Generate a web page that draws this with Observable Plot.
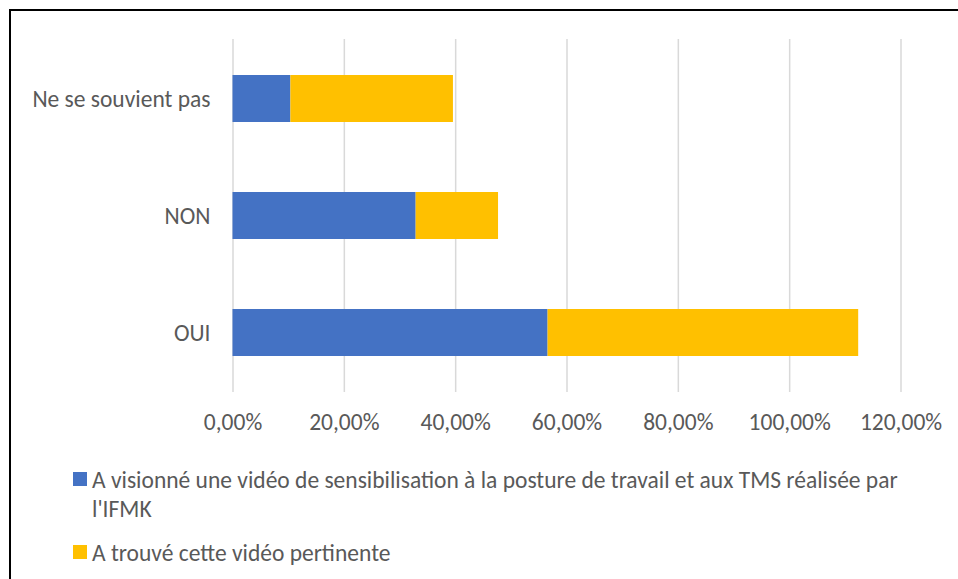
<!DOCTYPE html>
<html>
<head>
<meta charset="utf-8">
<script src="https://cdn.jsdelivr.net/npm/d3@7"></script>
<script src="https://cdn.jsdelivr.net/npm/@observablehq/plot@0.6"></script>
<style>
  html, body { margin: 0; padding: 0; background: #fff; overflow: hidden; width: 958px; height: 579px; }
  #frame { position: absolute; left: 9px; top: 9px; width: 960px; height: 580px; border: 2px solid #000; box-sizing: border-box; }
  #chart { position: absolute; left: 0; top: 0; }
  #legend { position: absolute; left: 73px; top: 466px; width: 850px; font-family: Carlito, Calibri, Lato, sans-serif; font-size: 23.5px; color: #595959; line-height: 29px; }
  .item { display: flex; align-items: flex-start; }
  .sw { flex: 0 0 14px; width: 14px; height: 14px; margin-top: 6px; margin-right: 5px; }
  .item + .item { margin-top: 15px; }
</style>
</head>
<body>
<div id="frame"></div>
<div id="chart"></div>
<div id="legend"></div>
<script>
const categories = ["Ne se souvient pas", "NON", "OUI"];
const seriesNames = [
  "A visionné une vidéo de sensibilisation à la posture de travail et aux TMS réalisée par l'IFMK",
  "A trouvé cette vidéo pertinente"
];
const seriesColors = ["#4472C4", "#FFC000"];
const visionne = [0.104, 0.329, 0.566];
const pertinente = [0.292, 0.148, 0.558];
const tickValues = [0, 0.2, 0.4, 0.6, 0.8, 1.0, 1.2];

const fr = d3.formatLocale({decimal: ",", thousands: " ", grouping: [3], currency: ["", " €"], percent: "%"});
const fmt = fr.format(".2%");

const data = [];
categories.forEach((c, i) => {
  data.push({cat: c, series: seriesNames[0], value: visionne[i]});
  data.push({cat: c, series: seriesNames[1], value: pertinente[i]});
});

const chart = Plot.plot({
  width: 958,
  height: 450,
  marginLeft: 232.5,
  marginRight: 57.5,
  marginTop: 39,
  marginBottom: 58,
  style: {fontFamily: "Carlito, Calibri, Lato, sans-serif", fontSize: "23.5px", color: "#595959", background: "transparent"},
  x: {domain: [0, 1.2], ticks: tickValues, tickFormat: fmt, label: null, tickSize: 0, tickPadding: 21},
  y: {domain: categories, paddingInner: 0.6, paddingOuter: 0.3, label: null, tickSize: 0, tickPadding: 22.5},
  color: {domain: seriesNames, range: seriesColors},
  marks: [
    Plot.ruleX(tickValues, {stroke: "#d9d9d9", strokeWidth: 1.5}),
    Plot.barX(data, {y: "cat", x: "value", fill: "series", order: null}),
    Plot.axisX({ticks: tickValues, tickFormat: fmt, tickSize: 0, tickPadding: 21, label: null, fill: "#595959"}),
    Plot.axisY({tickSize: 0, tickPadding: 22.5, label: null, fill: "#595959"})
  ]
});
document.getElementById("chart").appendChild(chart);

const legend = document.getElementById("legend");
seriesNames.forEach((name, i) => {
  const item = document.createElement("div");
  item.className = "item";
  const sw = document.createElement("span");
  sw.className = "sw";
  sw.style.background = seriesColors[i];
  const tx = document.createElement("span");
  tx.textContent = name;
  item.appendChild(sw);
  item.appendChild(tx);
  legend.appendChild(item);
});
</script>
</body>
</html>
